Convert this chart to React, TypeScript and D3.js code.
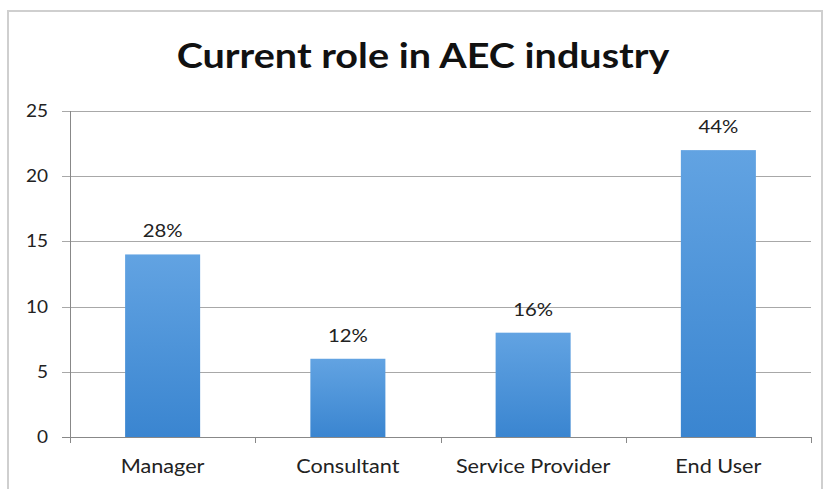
import React from "react";
import * as d3 from "d3";

const categories = ["Manager", "Consultant", "Service Provider", "End User"];
const values = [14, 6, 8, 22];
const valueLabels = ["28%", "12%", "16%", "44%"];
const yTicks = [0, 5, 10, 15, 20, 25];
const title = "Current role in AEC industry";

const W = 827;
const H = 489;
const M = { left: 70, right: 16, top: 111, bottom: 52 };
const FONT = "Lato, 'Open Sans', 'DejaVu Sans', sans-serif";

function SText({
  x,
  y,
  anchor,
  size,
  weight,
  fill,
  dy,
  sx = 1.2,
  children,
}: {
  x: number;
  y: number;
  anchor: string;
  size: number;
  weight?: string;
  fill: string;
  dy?: string;
  sx?: number;
  children: React.ReactNode;
}) {
  return (
    <g transform={`translate(${x},${y}) scale(${sx},1)`}>
      <text
        x={0}
        y={0}
        dy={dy}
        textAnchor={anchor}
        fontSize={size}
        fontWeight={weight}
        fill={fill}
      >
        {children}
      </text>
    </g>
  );
}

export default function App() {
  const x = d3
    .scaleBand<string>()
    .domain(categories)
    .range([M.left, W - M.right])
    .paddingInner(0.595)
    .paddingOuter(0.2975);
  const y = d3.scaleLinear().domain([0, 25]).range([H - M.bottom, M.top]);
  const step = x.step();
  const boundaries = d3.range(categories.length + 1).map((i) => M.left + i * step);

  return (
    <svg
      width={W}
      height={H}
      style={{ position: "absolute", left: 0, top: 0, background: "#fff" }}
      fontFamily={FONT}
    >
      <defs>
        <linearGradient id="barGrad" x1="0" y1="0" x2="0" y2="1">
          <stop offset="0%" stopColor="#62a3e2" />
          <stop offset="100%" stopColor="#3a85d0" />
        </linearGradient>
      </defs>
      <rect x={0} y={0} width={W} height={H} fill="#fff" />
      {/* frame */}
      <path d={`M8,${H} V11 H822 V${H}`} fill="none" stroke="#cfcfcf" strokeWidth={2} />
      <SText x={423} y={68} anchor="middle" size={35} weight="bold" fill="#111" sx={1.13}>
        {title}
      </SText>
      {/* gridlines */}
      {yTicks.map((t) => (
        <line
          key={t}
          x1={M.left - 8}
          x2={W - M.right}
          y1={Math.round(y(t)) + 0.5}
          y2={Math.round(y(t)) + 0.5}
          stroke={t === 0 ? "#888" : "#a8a8a8"}
          strokeWidth={1}
        />
      ))}
      {yTicks.map((t) => (
        <SText key={"l" + t} x={48} y={y(t)} dy="0.35em" anchor="end" size={17} fill="#222" sx={1.12}>
          {t}
        </SText>
      ))}
      {/* y axis */}
      <line x1={M.left + 0.5} x2={M.left + 0.5} y1={y(25)} y2={y(0)} stroke="#888" />
      {/* x ticks */}
      {boundaries.map((b, i) => (
        <line
          key={"xt" + i}
          x1={Math.round(b) + 0.5}
          x2={Math.round(b) + 0.5}
          y1={y(0)}
          y2={y(0) + 6}
          stroke="#888"
        />
      ))}
      {/* bars */}
      {categories.map((c, i) => (
        <g key={c}>
          <rect
            x={x(c)}
            y={y(values[i])}
            width={x.bandwidth()}
            height={y(0) - y(values[i])}
            fill="url(#barGrad)"
          />
          <SText
            x={(x(c) as number) + x.bandwidth() / 2}
            y={y(values[i]) - 17}
            anchor="middle"
            size={18}
            fill="#222"
            sx={1.13}
          >
            {valueLabels[i]}
          </SText>
          <SText
            x={(x(c) as number) + x.bandwidth() / 2}
            y={473}
            anchor="middle"
            size={19}
            fill="#222"
            sx={1.14}
          >
            {c}
          </SText>
        </g>
      ))}
    </svg>
  );
}
